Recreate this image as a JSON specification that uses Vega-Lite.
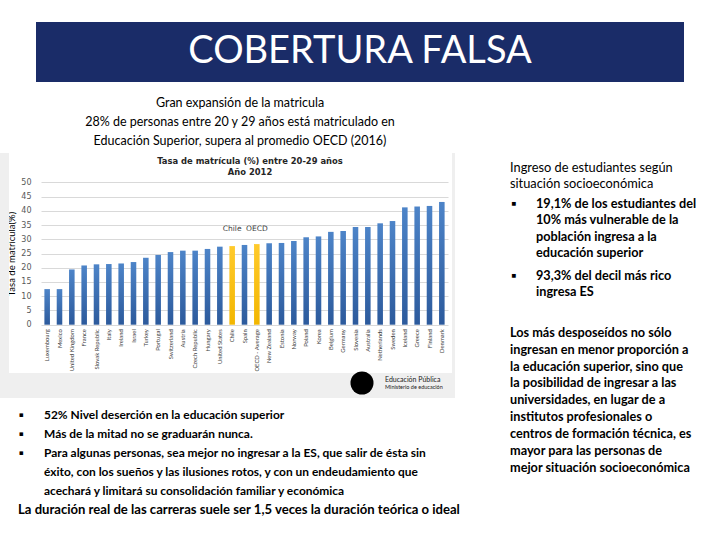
{
  "$schema": "https://vega.github.io/schema/vega-lite/v6.json",
  "width": 720,
  "height": 540,
  "autosize": "none",
  "padding": 0,
  "background": "white",
  "config": {"view": {"stroke": null}, "font": "Lato"},
  "resolve": {"scale": {"x": "independent", "y": "independent", "size": "independent"}},
  "layer": [
    {
      "data": {"values": [{"t": "COBERTURA FALSA"}]},
      "encoding": {
        "x": {"field": "t", "type": "nominal", "scale": {"type": "band", "range": [36, 684], "paddingInner": 0, "paddingOuter": 0}, "axis": null},
        "y": {"field": "t", "type": "nominal", "scale": {"type": "band", "range": [22, 82], "paddingInner": 0, "paddingOuter": 0}, "axis": null}
      },
      "layer": [
        {"mark": {"type": "rect", "color": "#1a2c68"}},
        {"mark": {"type": "text", "color": "white", "fontSize": 38, "font": "Lato", "baseline": "middle", "align": "center"}, "encoding": {"text": {"field": "t"}}}
      ]
    },
    {
      "data": {"values": [
        {"text": "Gran expansión de la matricula", "line": 0},
        {"text": "28% de personas entre 20 y 29 años está matriculado en", "line": 1},
        {"text": "Educación Superior, supera al promedio OECD (2016)", "line": 2}
      ]},
      "mark": {"type": "text", "align": "center", "baseline": "middle", "font": "Lato", "fontSize": 12.5, "color": "black"},
      "encoding": {
        "x": {"datum": 0, "type": "quantitative", "scale": {"domain": [0, 1], "range": [240, 480]}, "axis": null},
        "y": {"field": "line", "type": "quantitative", "scale": {"domain": [0, 2], "range": [103, 141], "nice": false, "zero": false}, "axis": null},
        "text": {"field": "text"}
      }
    },
    {
      "data": {"values": [{"panel": "left margin"}]},
      "mark": {"type": "rect", "color": "#efefef"},
      "encoding": {
        "x": {"field": "panel", "type": "nominal", "scale": {"type": "band", "range": [0, 9], "paddingInner": 0, "paddingOuter": 0}, "axis": null},
        "y": {"field": "panel", "type": "nominal", "scale": {"type": "band", "range": [153, 398], "paddingInner": 0, "paddingOuter": 0}, "axis": null}
      }
    },
    {
      "data": {"values": [{"panel": "right margin"}]},
      "mark": {"type": "rect", "color": "#efefef"},
      "encoding": {
        "x": {"field": "panel", "type": "nominal", "scale": {"type": "band", "range": [452, 455], "paddingInner": 0, "paddingOuter": 0}, "axis": null},
        "y": {"field": "panel", "type": "nominal", "scale": {"type": "band", "range": [153, 398], "paddingInner": 0, "paddingOuter": 0}, "axis": null}
      }
    },
    {
      "data": {"values": [{"panel": "bottom margin"}]},
      "mark": {"type": "rect", "color": "#efefef"},
      "encoding": {
        "x": {"field": "panel", "type": "nominal", "scale": {"type": "band", "range": [0, 455], "paddingInner": 0, "paddingOuter": 0}, "axis": null},
        "y": {"field": "panel", "type": "nominal", "scale": {"type": "band", "range": [373, 398], "paddingInner": 0, "paddingOuter": 0}, "axis": null}
      }
    },
    {
      "data": {"values": [
        {"country": "Luxembourg", "value": 12.5, "tag": ""},
        {"country": "Mexico", "value": 12.5, "tag": ""},
        {"country": "United Kingdom", "value": 19.4, "tag": ""},
        {"country": "France", "value": 20.8, "tag": ""},
        {"country": "Slovak Republic", "value": 21.2, "tag": ""},
        {"country": "Italy", "value": 21.3, "tag": ""},
        {"country": "Ireland", "value": 21.5, "tag": ""},
        {"country": "Israel", "value": 22.0, "tag": ""},
        {"country": "Turkey", "value": 23.5, "tag": ""},
        {"country": "Portugal", "value": 24.5, "tag": ""},
        {"country": "Switzerland", "value": 25.5, "tag": ""},
        {"country": "Austria", "value": 26.0, "tag": ""},
        {"country": "Czech Republic", "value": 26.0, "tag": ""},
        {"country": "Hungary", "value": 26.6, "tag": ""},
        {"country": "United States", "value": 27.4, "tag": ""},
        {"country": "Chile", "value": 27.6, "tag": "Chile"},
        {"country": "Spain", "value": 28.0, "tag": ""},
        {"country": "OECD - Average", "value": 28.3, "tag": "OECD"},
        {"country": "New Zealand", "value": 28.6, "tag": ""},
        {"country": "Estonia", "value": 28.7, "tag": ""},
        {"country": "Norway", "value": 29.4, "tag": ""},
        {"country": "Poland", "value": 30.7, "tag": ""},
        {"country": "Korea", "value": 31.0, "tag": ""},
        {"country": "Belgium", "value": 32.6, "tag": ""},
        {"country": "Germany", "value": 32.9, "tag": ""},
        {"country": "Slovenia", "value": 34.3, "tag": ""},
        {"country": "Australia", "value": 34.3, "tag": ""},
        {"country": "Netherlands", "value": 35.6, "tag": ""},
        {"country": "Sweden", "value": 36.4, "tag": ""},
        {"country": "Iceland", "value": 41.2, "tag": ""},
        {"country": "Greece", "value": 41.5, "tag": ""},
        {"country": "Finland", "value": 41.7, "tag": ""},
        {"country": "Denmark", "value": 43.1, "tag": ""}
      ]},
      "encoding": {
        "x": {
          "field": "country", "type": "nominal", "sort": null,
          "scale": {"type": "band", "range": [41, 448], "paddingInner": 0.55, "paddingOuter": 0.275},
          "axis": {"orient": "bottom", "offset": -215.3, "title": null, "labelAngle": -90, "labelFont": "Lato", "labelFontSize": 5.9, "labelColor": "#404040", "labelPadding": 4, "domain": false, "ticks": false, "tickSize": 0, "grid": false, "labelOverlap": false}
        },
        "y": {
          "field": "value", "type": "quantitative",
          "scale": {"domain": [0, 50], "range": [324.7, 182.3], "nice": false, "zero": true},
          "axis": {"orient": "left", "offset": -41, "values": [0, 5, 10, 15, 20, 25, 30, 35, 40, 45, 50], "title": "Tasa de matricula(%)", "titleFont": "Lato", "titleFontSize": 9.5, "titleFontWeight": "normal", "titleColor": "#000000", "titlePadding": 4, "labelFont": "DejaVu Sans", "labelFontSize": 8, "labelColor": "#595959", "labelPadding": 10, "domain": false, "ticks": false, "tickSize": 0, "grid": true, "gridColor": "#d9d9d9", "gridWidth": 1}
        }
      },
      "layer": [
        {
          "mark": {"type": "bar"},
          "encoding": {
            "color": {
              "condition": {"test": "datum.tag !== ''", "value": {"gradient": "linear", "x1": 0, "y1": 0, "x2": 0, "y2": 1, "stops": [{"offset": 0, "color": "#ffca2c"}, {"offset": 1, "color": "#f2b600"}]}},
              "value": {"gradient": "linear", "x1": 0, "y1": 0, "x2": 0, "y2": 1, "stops": [{"offset": 0, "color": "#4d84c8"}, {"offset": 1, "color": "#2c5a9c"}]}
            }
          }
        },
        {
          "transform": [{"filter": "datum.tag !== ''"}],
          "mark": {"type": "text", "font": "DejaVu Sans", "fontSize": 7.5, "color": "#404040", "baseline": "middle", "align": "center"},
          "encoding": {
            "y": {"datum": 33.7, "type": "quantitative"},
            "text": {"field": "tag"}
          }
        }
      ]
    },
    {
      "data": {"values": [
        {"text": "Tasa de matrícula (%) entre 20-29 años", "line": 0},
        {"text": "Año 2012", "line": 1}
      ]},
      "mark": {"type": "text", "align": "center", "baseline": "middle", "font": "DejaVu Sans", "fontWeight": "bold", "fontSize": 8.4, "color": "#262626"},
      "encoding": {
        "x": {"datum": 0, "type": "quantitative", "scale": {"domain": [0, 1], "range": [250, 300]}, "axis": null},
        "y": {"field": "line", "type": "quantitative", "scale": {"domain": [0, 1], "range": [160.5, 171.5], "nice": false, "zero": false}, "axis": null},
        "text": {"field": "text"}
      }
    },
    {
      "data": {"values": [{"logo": "Educación Pública"}]},
      "mark": {"type": "point", "filled": true, "color": "#000000", "size": 531, "opacity": 1},
      "encoding": {
        "x": {"field": "logo", "type": "nominal", "scale": {"type": "band", "range": [349, 375], "paddingInner": 0, "paddingOuter": 0}, "axis": null},
        "y": {"field": "logo", "type": "nominal", "scale": {"type": "band", "range": [370, 396], "paddingInner": 0, "paddingOuter": 0}, "axis": null}
      }
    },
    {
      "data": {"values": [
        {"text": "Educación Pública", "line": 0},
        {"text": "Ministerio de educación", "line": 1}
      ]},
      "mark": {"type": "text", "align": "left", "baseline": "middle", "font": "Lato", "color": "#222222"},
      "encoding": {
        "x": {"datum": 0, "type": "quantitative", "scale": {"domain": [0, 1], "range": [385, 400]}, "axis": null},
        "y": {"field": "line", "type": "quantitative", "scale": {"domain": [0, 1], "range": [379.5, 386.5], "nice": false, "zero": false}, "axis": null},
        "size": {"field": "line", "type": "ordinal", "scale": {"range": [7, 5.5]}, "legend": null},
        "text": {"field": "text"}
      }
    },
    {
      "data": {"values": [
        {"text": "Ingreso de estudiantes según", "line": 0},
        {"text": "situación socioeconómica", "line": 1}
      ]},
      "mark": {"type": "text", "align": "left", "baseline": "middle", "font": "Lato", "fontSize": 12.8, "color": "black"},
      "encoding": {
        "x": {"datum": 0, "type": "quantitative", "scale": {"domain": [0, 1], "range": [510, 536]}, "axis": null},
        "y": {"field": "line", "type": "quantitative", "scale": {"domain": [0, 1], "range": [168, 184], "nice": false, "zero": false}, "axis": null},
        "text": {"field": "text"}
      }
    },
    {
      "data": {"values": [
        {"text": "▪", "line": 0, "level": 0},
        {"text": "19,1% de los estudiantes del", "line": 0, "level": 1},
        {"text": "10% más vulnerable de la", "line": 1, "level": 1},
        {"text": "población ingresa a la", "line": 2, "level": 1},
        {"text": "educación superior", "line": 3, "level": 1}
      ]},
      "mark": {"type": "text", "align": "left", "baseline": "middle", "font": "Lato", "fontWeight": "bold", "fontSize": 12.7, "color": "black"},
      "encoding": {
        "x": {"field": "level", "type": "quantitative", "scale": {"domain": [0, 1], "range": [511, 536]}, "axis": null},
        "y": {"field": "line", "type": "quantitative", "scale": {"domain": [0, 3], "range": [204, 253], "nice": false, "zero": false}, "axis": null},
        "text": {"field": "text"}
      }
    },
    {
      "data": {"values": [
        {"text": "▪", "line": 0, "level": 0},
        {"text": "93,3% del decil más rico", "line": 0, "level": 1},
        {"text": "ingresa ES", "line": 1, "level": 1}
      ]},
      "mark": {"type": "text", "align": "left", "baseline": "middle", "font": "Lato", "fontWeight": "bold", "fontSize": 12.7, "color": "black"},
      "encoding": {
        "x": {"field": "level", "type": "quantitative", "scale": {"domain": [0, 1], "range": [511, 536]}, "axis": null},
        "y": {"field": "line", "type": "quantitative", "scale": {"domain": [0, 1], "range": [276, 292], "nice": false, "zero": false}, "axis": null},
        "text": {"field": "text"}
      }
    },
    {
      "data": {"values": [
        {"text": "Los más desposeídos no sólo", "line": 0},
        {"text": "ingresan en menor proporción a", "line": 1},
        {"text": "la educación superior, sino que", "line": 2},
        {"text": "la posibilidad de ingresar a las", "line": 3},
        {"text": "universidades, en lugar de a", "line": 4},
        {"text": "institutos profesionales o", "line": 5},
        {"text": "centros de formación técnica, es", "line": 6},
        {"text": "mayor para las personas de", "line": 7},
        {"text": "mejor situación socioeconómica", "line": 8}
      ]},
      "mark": {"type": "text", "align": "left", "baseline": "middle", "font": "Lato", "fontWeight": "bold", "fontSize": 12.7, "color": "black"},
      "encoding": {
        "x": {"datum": 0, "type": "quantitative", "scale": {"domain": [0, 1], "range": [510, 536]}, "axis": null},
        "y": {"field": "line", "type": "quantitative", "scale": {"domain": [0, 8], "range": [333, 467.5], "nice": false, "zero": false}, "axis": null},
        "text": {"field": "text"}
      }
    },
    {
      "data": {"values": [
        {"text": "▪", "line": 0, "level": 0},
        {"text": "52% Nivel deserción en la educación superior", "line": 0, "level": 1},
        {"text": "▪", "line": 1, "level": 0},
        {"text": "Más de la mitad no se graduarán nunca.", "line": 1, "level": 1},
        {"text": "▪", "line": 2, "level": 0},
        {"text": "Para algunas personas, sea mejor no ingresar a la ES, que salir de ésta sin", "line": 2, "level": 1},
        {"text": "éxito, con los sueños y las ilusiones rotos, y con un endeudamiento que", "line": 3, "level": 1},
        {"text": "acechará y limitará su consolidación familiar y económica", "line": 4, "level": 1}
      ]},
      "mark": {"type": "text", "align": "left", "baseline": "middle", "font": "Lato", "fontWeight": "bold", "fontSize": 11.95, "color": "black"},
      "encoding": {
        "x": {"field": "level", "type": "quantitative", "scale": {"domain": [0, 1], "range": [19, 44]}, "axis": null},
        "y": {"field": "line", "type": "quantitative", "scale": {"domain": [0, 4], "range": [415, 491], "nice": false, "zero": false}, "axis": null},
        "text": {"field": "text"}
      }
    },
    {
      "data": {"values": [
        {"text": "La duración real de las carreras suele ser 1,5 veces la duración teórica o ideal", "line": 0}
      ]},
      "mark": {"type": "text", "align": "left", "baseline": "middle", "font": "Lato", "fontWeight": "bold", "fontSize": 13.1, "color": "black"},
      "encoding": {
        "x": {"datum": 0, "type": "quantitative", "scale": {"domain": [0, 1], "range": [18, 44]}, "axis": null},
        "y": {"field": "line", "type": "quantitative", "scale": {"domain": [0, 1], "range": [510, 529], "nice": false, "zero": false}, "axis": null},
        "text": {"field": "text"}
      }
    }
  ]
}
